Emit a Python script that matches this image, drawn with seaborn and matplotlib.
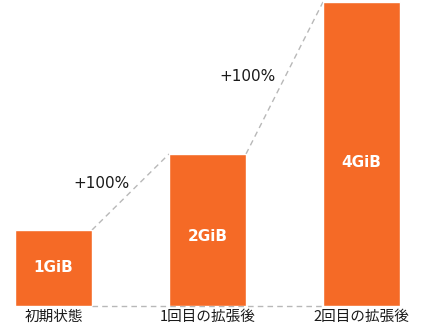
import matplotlib
matplotlib.use("Agg")
import matplotlib.pyplot as plt
import seaborn as sns
import pandas as pd

categories = ["初期状態", "1回目の拡張後", "2回目の拡張後"]
values = [1, 2, 4]
bar_labels = ["1GiB", "2GiB", "4GiB"]
growth_labels = ["+100%", "+100%"]

sns.set_theme(style="white")
plt.rcParams["font.family"] = ["Noto Sans CJK JP", "DejaVu Sans"]

ORANGE = "#F56A26"
GRAY = "#b8b8b8"
W = 0.5

fig = plt.figure(figsize=(4.30, 3.31), dpi=100)
ax = fig.add_axes([0, 25 / 331, 1, 306 / 331])
df = pd.DataFrame({"cat": categories, "val": values})
sns.barplot(data=df, x="cat", y="val", color=ORANGE, saturation=1, width=W, ax=ax, zorder=3)

# baseline dashed line
ax.plot([0 + W / 2, 2 - W / 2], [0, 0], ls=(0, (4, 3)), color=GRAY, lw=1, zorder=1, clip_on=False)
# connecting dashed lines
for i in range(len(values) - 1):
    ax.plot([i + W / 2, i + 1 - W / 2], [values[i], values[i + 1]], ls=(0, (4, 3)),
            color=GRAY, lw=1, zorder=1, clip_on=False)

# growth labels
growth_pos = [(0.31, 1.61), (1.26, 3.02)]
for (gx, gy), t in zip(growth_pos, growth_labels):
    ax.text(gx, gy, t, ha="center", va="center", fontsize=11, color="#1a1a1a",
            family="DejaVu Sans")

# bar labels (vertical placement as in reference)
label_frac = [0.51, 0.455, 0.472]
for i, (v, t, f) in enumerate(zip(values, bar_labels, label_frac)):
    ax.text(i, v * f, t, ha="center", va="center", fontsize=11, color="white",
            fontweight="bold", family="DejaVu Sans")

ax.set_xlim(-53.5 / 154, (430 - 53.5) / 154)
ax.set_ylim(0, 306 / 76)
ax.set_xlabel("")
ax.set_ylabel("")
ax.set_yticks([])
ax.tick_params(axis="x", length=0, pad=3, labelsize=10.5, labelcolor="#1a1a1a")
for s in ax.spines.values():
    s.set_visible(False)
ax.patch.set_alpha(0)

fig.savefig("out.png", dpi=100)
